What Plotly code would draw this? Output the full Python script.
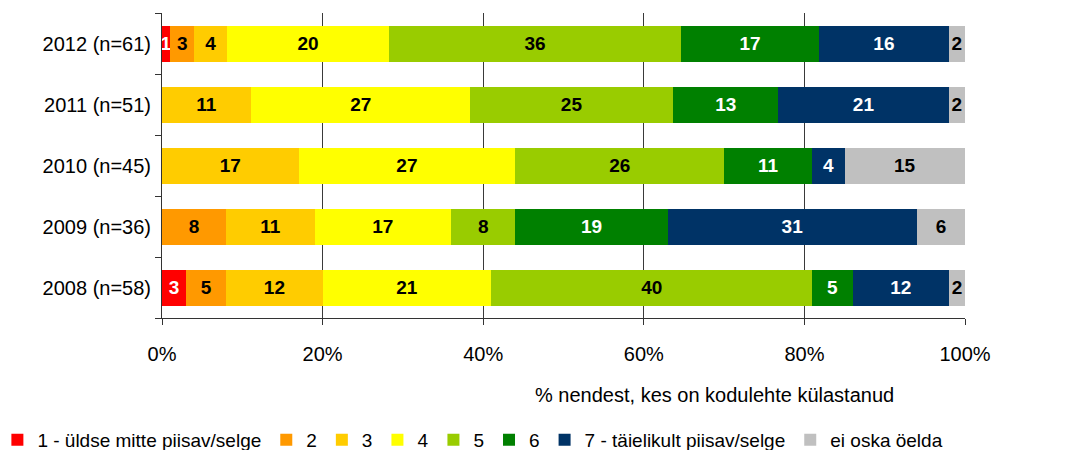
import plotly.graph_objects as go

# categories, bottom to top
years = ["2008 (n=58)", "2009 (n=36)", "2010 (n=45)", "2011 (n=51)", "2012 (n=61)"]

series_names = ["1 - üldse mitte piisav/selge", "2", "3", "4", "5", "6",
                "7 - täielikult piisav/selge", "ei oska öelda"]

# % values per answer, same order as years (None = no segment)
v1 = [3, None, None, None, 1]
v2 = [5, 8, None, None, 3]
v3 = [12, 11, 17, 11, 4]
v4 = [21, 17, 27, 27, 20]
v5 = [40, 8, 26, 25, 36]
v6 = [5, 19, 11, 13, 17]
v7 = [12, 31, 4, 21, 16]
v_ei = [2, 6, 15, 2, 2]

colors = ["#FF0000", "#FF9900", "#FFCC00", "#FFFF00", "#99CC00", "#008000", "#003366", "#C0C0C0"]
label_colors = ["white", "black", "black", "black", "black", "white", "white", "black"]

FONT = "Liberation Sans, Arial, sans-serif"

fig = go.Figure()
for name, vals, col, lc in zip(series_names, [v1, v2, v3, v4, v5, v6, v7, v_ei], colors, label_colors):
    fig.add_trace(go.Bar(
        y=years, x=vals, name=name, orientation="h",
        marker=dict(color=col, line=dict(width=0)),
        text=[str(v) if v is not None else "" for v in vals],
        texttemplate="%{text}",
        textposition="inside", insidetextanchor="middle", textangle=0,
        textfont=dict(family=FONT, size=19, color=lc, weight="bold"),
        cliponaxis=True,
    ))

# page body adds an 8px offset, so margins are shifted by 8px
fig.update_layout(
    barmode="stack", barnorm="percent", bargap=0.41,
    width=1082, height=450,
    margin=dict(l=154, r=125, t=5, b=140, autoexpand=False),
    paper_bgcolor="white", plot_bgcolor="white",
    font=dict(family=FONT, size=19, color="black"),
    uniformtext=dict(minsize=19, mode="show"),
    legend=dict(orientation="h", x=-0.205, y=-0.4, xanchor="left", yanchor="middle",
                font=dict(size=19), traceorder="normal", itemwidth=30),
    xaxis=dict(range=[0, 100], tickvals=[0, 20, 40, 60, 80, 100],
               ticktext=["0%", "20%", "40%", "60%", "80%", "100%"],
               showgrid=True, gridcolor="#3a3a3a", gridwidth=1,
               showline=True, linecolor="#333333", linewidth=1,
               ticks="outside", ticklen=6, tickcolor="#333333",
               ticklabelstandoff=12, zeroline=False, tickfont=dict(size=20),
               automargin=False),
    yaxis=dict(showline=True, linecolor="#333333", linewidth=1,
               ticks="outside", ticklen=6, tickcolor="#333333", tickson="boundaries",
               tickfont=dict(size=20), ticklabelstandoff=6, automargin=False),
    annotations=[dict(text="% nendest, kes on kodulehte külastanud", x=0.462, y=-0.252,
                      xref="paper", yref="paper", xanchor="left", yanchor="middle",
                      showarrow=False, font=dict(size=20))],
)

fig.write_html("out.html")
